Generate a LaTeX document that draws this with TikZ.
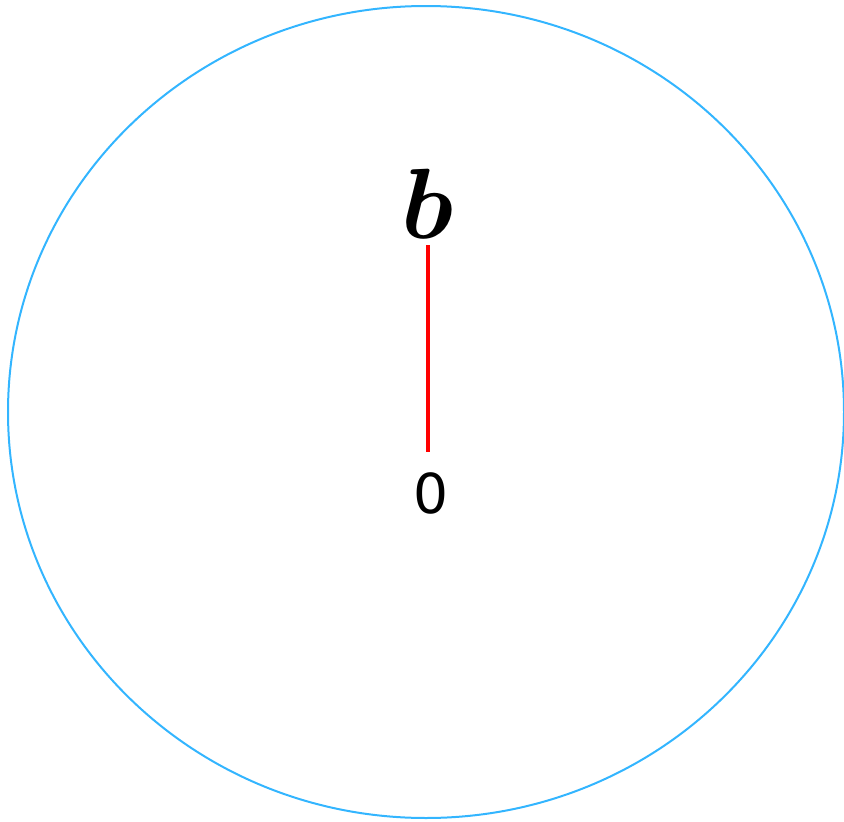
\RequirePackage{fix-cm}
\documentclass[tikz,border=0pt]{standalone}
\usepackage{fontspec}
\usepackage{amsmath,bm}
\newfontfamily\labelsans{DejaVu Sans}
\definecolor{circblue}{RGB}{51,181,255}
\begin{document}
\begin{tikzpicture}[x=1pt,y=1pt,
  lbl/.style={inner sep=0pt, outer sep=0pt, anchor=base},
  seg/.style={draw=red, line width=4pt}]
\useasboundingbox (0,0) rectangle (844,-822);
\draw[circblue, line width=2pt] (426,-412) ellipse [x radius=418, y radius=406];
\node[lbl] (b) at (428,-238) {\fontsize{100}{100}\selectfont$\bm{b}$};
\node[lbl] (o) at (431,-513) {\fontsize{55}{55}\selectfont\labelsans 0};
\draw[seg, shorten <=7pt, shorten >=20pt] (b.south) -- (b.south |- o.north);
\end{tikzpicture}
\end{document}
